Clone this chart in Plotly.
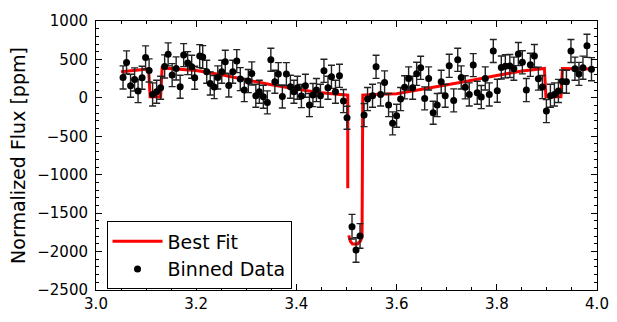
import plotly.graph_objects as go

# Binned data (time in days, flux in ppm)
time_binned = [3.054, 3.061, 3.069, 3.077, 3.084, 3.092, 3.099, 3.106, 3.113, 3.121,
               3.129, 3.137, 3.144, 3.152, 3.160, 3.168, 3.175, 3.183, 3.191, 3.197,
               3.207, 3.213, 3.221, 3.228, 3.236, 3.243, 3.251, 3.258, 3.265, 3.273,
               3.281, 3.288, 3.296, 3.304, 3.311, 3.319, 3.326, 3.334, 3.342, 3.349,
               3.357, 3.364, 3.372, 3.380, 3.388, 3.395, 3.402, 3.410, 3.418, 3.426,
               3.433, 3.440, 3.448, 3.455, 3.463, 3.470, 3.478, 3.486, 3.494, 3.501,
               3.511, 3.519, 3.527, 3.535, 3.542, 3.552, 3.559, 3.568, 3.576, 3.584,
               3.592, 3.600, 3.608, 3.616, 3.624, 3.632, 3.640, 3.648, 3.656, 3.664,
               3.673, 3.681, 3.689, 3.697, 3.705, 3.714, 3.722, 3.729, 3.737, 3.745,
               3.753, 3.761, 3.769, 3.777, 3.785, 3.793, 3.801, 3.809, 3.817, 3.826,
               3.834, 3.843, 3.851, 3.859, 3.867, 3.875, 3.883, 3.891, 3.899, 3.907,
               3.915, 3.923, 3.931, 3.939, 3.948, 3.956, 3.964, 3.972, 3.980, 3.989]
flux_binned = [266, 461, 157, 240, 88, 262, 526, 357, 45, 80,
               131, 409, 566, 296, 383, 144, 556, 452, 405, 262,
               543, 530, 340, 188, 140, 266, 340, 470, 162, 340,
               478, 244, 101, 218, 318, 27, 80, 14, -59, 496,
               209, 309, 19, 309, 144, 80, 131, 23, 157, -94,
               36, 101, 27, 352, 131, 274, 80, 287, -42, -259,
               -1676, -1979, -1797, -224, -16, 27, 404, 45, 201, -94,
               -332, -233, -16, 137, 253, 131, 313, 391, -7, 253,
               -194, -94, 209, 27, 417, -33, 495, 266, 137, 45,
               426, 66, 10, 253, 45, 610, 92, 395, 410, 415,
               380, 570, 462, 101, 430, 545, 250, 140, -172, 27,
               45, 90, 213, 209, 610, 380, 312, 393, 677, 373]
flux_err = [150, 150, 150, 150, 150, 150, 150, 150, 150, 150,
            150, 150, 150, 150, 150, 150, 150, 150, 150, 150,
            150, 150, 150, 150, 150, 150, 150, 150, 150, 150,
            150, 150, 150, 150, 150, 150, 150, 150, 150, 150,
            150, 150, 150, 150, 150, 150, 150, 150, 150, 150,
            150, 150, 150, 150, 150, 150, 150, 150, 150, 150,
            160, 160, 160, 150, 150, 150, 150, 150, 150, 150,
            150, 150, 150, 150, 150, 150, 150, 150, 150, 150,
            150, 150, 150, 150, 150, 150, 150, 150, 150, 150,
            150, 150, 150, 150, 150, 150, 150, 150, 150, 150,
            150, 150, 150, 150, 150, 150, 150, 150, 150, 150,
            150, 150, 150, 150, 150, 150, 150, 150, 150, 150]

# Best-fit model; None marks a gap in the curve
time_model = [3.050, 3.080, 3.105, 3.108, 3.129, 3.132, 3.200, 3.250, 3.300, 3.350,
              3.400, 3.450, 3.5025, 3.5025, None, 3.5045, 3.508, 3.512, 3.522, 3.528,
              3.531, 3.5325, 3.550, 3.600, 3.650, 3.700, 3.735, 3.800, 3.850, 3.895,
              3.898, 3.928, 3.931, 3.990]
flux_model = [340, 355, 376, 15, 15, 390, 355, 300, 235, 170,
              115, 65, 35, -1177, None, -1790, -1870, -1900, -1900, -1860,
              -1810, 35, 45, 55, 110, 165, 209, 290, 350, 383,
              14, 14, 383, 375]

x_ticks = [3.0, 3.2, 3.4, 3.6, 3.8, 4.0]
y_ticks = [1000, 500, 0, -500, -1000, -1500, -2000, -2500]

FONT = "DejaVu Sans"

fig = go.Figure()
fig.add_trace(go.Scatter(
    x=time_model, y=flux_model, mode="lines", name="Best Fit",
    line=dict(color="#ff0000", width=3), connectgaps=False))
fig.add_trace(go.Scatter(
    x=time_binned, y=flux_binned, mode="markers", name="Binned Data",
    marker=dict(color="black", size=7),
    error_y=dict(type="data", array=flux_err, visible=True,
                 color="#222222", thickness=1.4, width=3.5)))

axis_common = dict(
    showline=True, linecolor="black", linewidth=1, mirror="allticks",
    ticks="inside", ticklen=6, tickcolor="black", tickwidth=1,
    showgrid=False, zeroline=False,
    tickfont=dict(family=FONT, size=15, color="black"),
)

fig.update_xaxes(range=[3.0, 4.0], tickvals=x_ticks,
                 ticktext=[f"{v:.1f}" for v in x_ticks],
                 minor=dict(dtick=0.05, ticks="inside", ticklen=3, tickcolor="black", showgrid=False),
                 **axis_common)
fig.update_yaxes(range=[-2500, 1000], tickvals=y_ticks,
                 ticktext=[("\u2212" + str(-v)) if v < 0 else str(v) for v in y_ticks],
                 minor=dict(dtick=100, ticks="inside", ticklen=3, tickcolor="black", showgrid=False),
                 title=dict(text="Normalized Flux [ppm]", font=dict(family=FONT, size=19, color="black"),
                            standoff=6),
                 ticklabelstandoff=4,
                 **axis_common)

fig.update_layout(
    width=617, height=322,
    margin=dict(l=96, r=20, t=21, b=32, autoexpand=False),
    paper_bgcolor="white", plot_bgcolor="white",
    font=dict(family=FONT, color="black"),
    showlegend=True,
    legend=dict(x=0.021, y=0.255, xanchor="left", yanchor="top",
                bordercolor="black", borderwidth=1, bgcolor="white",
                font=dict(family=FONT, size=19, color="black"),
                itemwidth=50, tracegroupgap=0),
)

fig.write_html("out.html")
